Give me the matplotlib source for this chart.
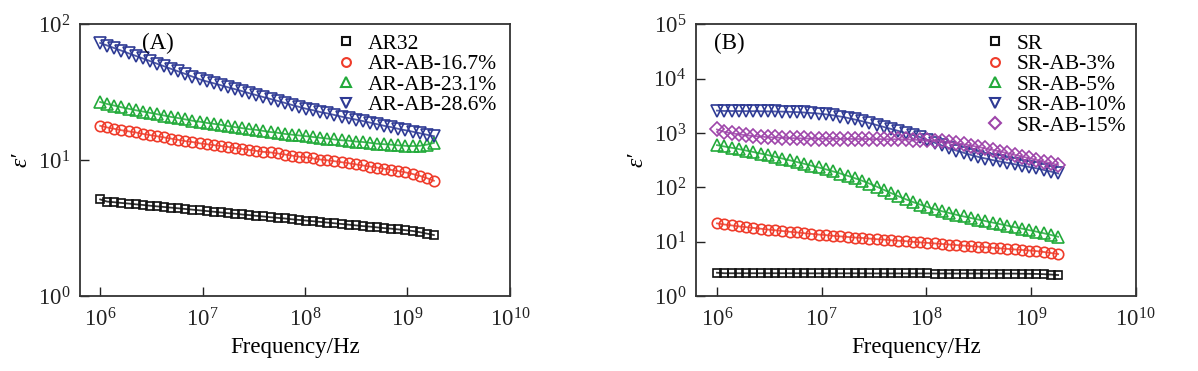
import numpy as np
import matplotlib
matplotlib.use("Agg")
import matplotlib.pyplot as plt
from matplotlib.lines import Line2D
from matplotlib.ticker import LogLocator, NullLocator

plt.rcParams['font.family'] = ['Liberation Serif', 'DejaVu Serif']
plt.rcParams['mathtext.fontset'] = 'custom'
plt.rcParams['mathtext.rm'] = 'Liberation Serif'
plt.rcParams['mathtext.it'] = 'Liberation Serif:italic'

# frequency sweep (log10 of Hz), same for every sample
freq_exp = [6.000, 6.069, 6.139, 6.208, 6.277, 6.347, 6.416, 6.485, 6.555, 6.624,
            6.693, 6.763, 6.832, 6.901, 6.971, 7.040, 7.109, 7.179, 7.248, 7.317,
            7.387, 7.456, 7.525, 7.595, 7.664, 7.733, 7.803, 7.872, 7.941, 8.011,
            8.080, 8.149, 8.219, 8.288, 8.357, 8.427, 8.496, 8.565, 8.635, 8.704,
            8.773, 8.843, 8.912, 8.981, 9.051, 9.120, 9.189, 9.259]

# panel A
ar32 = [5.14, 4.95, 4.90, 4.84, 4.79, 4.73, 4.68, 4.62, 4.57, 4.52,
        4.47, 4.42, 4.37, 4.32, 4.27, 4.22, 4.17, 4.12, 4.07, 4.03,
        3.98, 3.94, 3.89, 3.85, 3.80, 3.76, 3.72, 3.67, 3.63, 3.59,
        3.55, 3.51, 3.47, 3.43, 3.39, 3.35, 3.31, 3.27, 3.24, 3.20,
        3.16, 3.13, 3.09, 3.05, 3.01, 2.95, 2.88, 2.81]
ar_ab_167 = [17.9, 17.4, 17.0, 16.6, 16.3, 16.0, 15.6, 15.3, 15.0, 14.7,
             14.4, 14.1, 13.8, 13.6, 13.3, 13.1, 12.9, 12.7, 12.5, 12.3,
             12.1, 11.9, 11.7, 11.5, 11.4, 11.2, 11.0, 10.8, 10.6, 10.5,
             10.3, 10.1, 9.98, 9.82, 9.66, 9.49, 9.31, 9.14, 8.97, 8.81,
             8.65, 8.47, 8.30, 8.13, 7.91, 7.67, 7.38, 7.05]
ar_ab_231 = [26.8, 25.9, 25.2, 24.5, 23.9, 23.3, 22.8, 22.3, 21.8, 21.3,
             20.8, 20.4, 19.95, 19.5, 19.2, 18.8, 18.5, 18.2, 17.8, 17.5,
             17.2, 16.9, 16.7, 16.4, 16.1, 15.9, 15.6, 15.4, 15.2, 15.0,
             14.8, 14.6, 14.4, 14.2, 14.0, 13.9, 13.7, 13.6, 13.4, 13.2,
             13.1, 13.0, 12.85, 12.75, 12.7, 12.75, 13.0, 13.4]
ar_ab_286 = [72.9, 69.8, 66.8, 64.0, 61.2, 58.6, 56.1, 53.7, 51.3, 49.1,
             47.0, 45.0, 43.1, 41.2, 39.4, 38.0, 36.8, 35.6, 34.4, 33.3,
             32.2, 31.1, 30.1, 29.1, 28.2, 27.3, 26.4, 25.5, 24.7, 23.9,
             23.3, 22.6, 22.1, 21.5, 20.9, 20.4, 19.9, 19.4, 18.9, 18.4,
             17.9, 17.5, 17.0, 16.6, 16.2, 15.8, 15.4, 15.0]

# panel B
sr = [2.68, 2.62, 2.62, 2.62, 2.62, 2.62, 2.62, 2.62, 2.62, 2.62,
      2.62, 2.62, 2.61, 2.61, 2.61, 2.61, 2.61, 2.61, 2.61, 2.61,
      2.61, 2.60, 2.60, 2.60, 2.60, 2.60, 2.60, 2.60, 2.60, 2.60,
      2.59, 2.59, 2.59, 2.59, 2.59, 2.59, 2.59, 2.58, 2.58, 2.58,
      2.58, 2.58, 2.57, 2.56, 2.55, 2.52, 2.48, 2.43]
sr_ab_3 = [21.7, 20.7, 19.9, 19.1, 18.5, 17.9, 17.3, 16.7, 16.2, 15.7,
           15.2, 14.8, 14.3, 13.9, 13.5, 13.2, 12.8, 12.5, 12.2, 11.9,
           11.7, 11.4, 11.1, 10.9, 10.6, 10.4, 10.2, 9.93, 9.70, 9.48,
           9.27, 9.06, 8.85, 8.65, 8.45, 8.26, 8.07, 7.89, 7.71, 7.53,
           7.36, 7.19, 7.03, 6.87, 6.70, 6.46, 6.19, 5.92]
sr_ab_5 = [597, 565, 535, 505, 475, 447, 419, 392, 365, 339,
           315, 292, 271, 251, 232, 214, 196, 179, 163, 147,
           132, 117, 103, 89.7, 78.2, 68.4, 60.3, 53.6, 48.1, 43.5,
           39.5, 36.3, 33.6, 31.2, 29.1, 27.2, 25.5, 23.9, 22.4, 21.0,
           19.7, 18.5, 17.4, 16.3, 15.3, 14.3, 13.3, 12.3]
sr_ab_10 = [2582, 2541, 2535, 2529, 2523, 2518, 2512, 2500, 2489, 2472,
            2449, 2421, 2382, 2333, 2275, 2203, 2113, 2009, 1892, 1770,
            1644, 1521, 1400, 1288, 1186, 1089, 1000, 916, 838, 741,
            661, 589, 525, 473, 432, 394, 363, 339, 316, 299,
            282, 266, 251, 237, 224, 209, 195, 180]
sr_ab_15 = [1159, 1047, 989, 944, 908, 879, 857, 839, 826, 815,
            805, 798, 793, 789, 785, 783, 782, 780, 778, 776,
            774, 773, 771, 769, 767, 764, 759, 752, 743, 735,
            719, 700, 676, 649, 618, 586, 553, 520, 488, 456,
            426, 396, 369, 344, 320, 298, 277, 257]

freq = 10 ** np.array(freq_exp)

black = '#111111'
red = '#ef3b2a'
green = '#22aa3a'
blue = '#2e3a94'
purple = '#9e45aa'

series_a = [(ar32, 'AR32', black, 's', 6),
            (ar_ab_167, 'AR-AB-16.7%', red, 'o', 7.5),
            (ar_ab_231, 'AR-AB-23.1%', green, '^', 8.5),
            (ar_ab_286, 'AR-AB-28.6%', blue, 'v', 8.5)]
series_b = [(sr, 'SR', black, 's', 6),
            (sr_ab_3, 'SR-AB-3%', red, 'o', 7.5),
            (sr_ab_5, 'SR-AB-5%', green, '^', 8.5),
            (sr_ab_10, 'SR-AB-10%', blue, 'v', 8.5),
            (sr_ab_15, 'SR-AB-15%', purple, 'D', 7)]

fig = plt.figure(figsize=(11.98, 3.71), dpi=100)
axA = fig.add_axes([0.0665, 0.2022, 0.359, 0.7323])
axB = fig.add_axes([0.581, 0.2022, 0.367, 0.7323])


def draw(ax, series, ylim, tag, tagx, legx):
    handles = []
    for vals, lab, c, m, ms in series:
        ax.plot(freq, vals, '-', color=c, lw=1.3, alpha=0.85)
        ax.plot(freq, vals, ls='none', marker=m, ms=ms, mfc='none', mec=c, mew=1.2)
        handles.append(Line2D([], [], ls='none', marker=m, ms=ms * 0.85,
                              mfc='none', mec=c, mew=1.5, label=lab))
    ax.set_xscale('log')
    ax.set_yscale('log')
    ax.set_xlim(10 ** 5.8, 1e10)
    ax.set_ylim(*ylim)
    ax.xaxis.set_major_locator(LogLocator(base=10, numticks=10))
    ax.yaxis.set_major_locator(LogLocator(base=10, numticks=10))
    ax.xaxis.set_minor_locator(NullLocator())
    ax.yaxis.set_minor_locator(NullLocator())
    ax.tick_params(direction='in', length=6.5, width=1, labelsize=16.5, pad=7,
                   top=False, right=False, colors='#222222')
    ax.tick_params(axis='x', pad=9)
    for s in ax.spines.values():
        s.set_linewidth(1.3)
        s.set_color('#333333')
    ax.set_xlabel('Frequency/Hz', fontsize=16.5, labelpad=4)
    ax.set_ylabel("ε′", fontsize=17, style='italic', labelpad=4)
    ax.text(tagx, 0.93, tag, transform=ax.transAxes, fontsize=16.5,
            ha='left', va='center')
    ax.legend(handles=handles, loc='upper left', bbox_to_anchor=(legx, 0.965),
              frameon=False, fontsize=15.5, handlelength=0.8, handletextpad=0.6,
              labelspacing=0.02, borderpad=0, borderaxespad=0)


draw(axA, series_a, (1, 100), '(A)', 0.145, 0.6)
draw(axB, series_b, (1, 1e5), '(B)', 0.04, 0.66)

fig.savefig('out.png', dpi=100)
